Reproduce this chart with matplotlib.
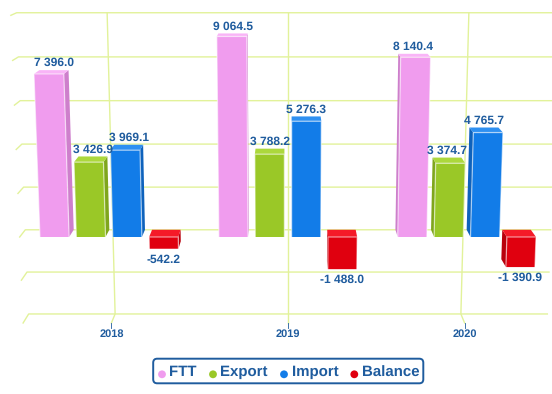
import matplotlib
matplotlib.use('Agg')
import matplotlib.pyplot as plt
from matplotlib.patches import Polygon, FancyBboxPatch, Circle

years = ['2018', '2019', '2020']
series_names = ['FTT', 'Export', 'Import', 'Balance']
ftt = [7396.0, 9064.5, 8140.4]
export = [3426.9, 3788.2, 3374.7]
imports = [3969.1, 5276.3, 4765.7]
balance = [-542.2, -1488.0, -1390.9]
grid_values = [-4000, -2000, 0, 2000, 4000, 6000, 8000, 10000]

# front, top, side colours
colors = {
    'FTT': ('#F09CEE', '#F9B4F7', '#CE7FCC'),
    'Export': ('#9AC827', '#ACD83C', '#7FA61C'),
    'Import': ('#127CE8', '#2E90F2', '#0E62BC'),
    'Balance': ('#E0000F', '#F51A28', '#B8000C'),
}
GRID = '#E2F29A'
TEXT = '#1F5C9E'
FONT = 'Liberation Sans'

plt.rcParams['text.hinting'] = 'no_hinting'
plt.rcParams['text.hinting_factor'] = 1

# fake 3d, pixel space of the figure
XC = 288.0
CAT_W = 176.6
Y0 = 237.0
SY = 0.02169
SY2 = 4.79e-8
YV = -107.0
DEPTH = 0.021
TAPER = 0.00015
SPACING = 0.2034
BAR_W = 0.163


def project(x, v, d=0.0):
    """x in category units around the middle year, v is the value, d 0 front to 1 back"""
    yf = Y0 - SY * v - SY2 * v * v
    s = 1 - DEPTH * d
    off = x * CAT_W * (1 + TAPER * (323 - yf))
    return XC + off * s, YV + (yf - YV) * s


def draw_bar(ax, x, v, cols):
    front, top, side = cols
    x0, x1 = x - BAR_W / 2, x + BAR_W / 2
    hi = max(v, 0)
    lo = min(v, 0)
    # side face that faces the middle of the chart
    xs = x1 if x < 0 else x0
    if abs(x) > BAR_W / 2:
        ax.add_patch(Polygon([project(xs, lo), project(xs, hi), project(xs, hi, 1), project(xs, lo, 1)],
                             closed=True, fc=side, ec='none', zorder=3))
    ax.add_patch(Polygon([project(x0, hi), project(x1, hi), project(x1, hi, 1), project(x0, hi, 1)],
                         closed=True, fc=top, ec='none', zorder=3))
    ax.add_patch(Polygon([project(x0, lo), project(x1, lo), project(x1, hi), project(x0, hi)],
                         closed=True, fc=front, ec='none', zorder=4))
    # pale edge on the front face
    pts = [project(x0, lo), project(x0, hi), project(x1, hi), project(x1, lo)]
    ax.plot([p[0] for p in pts], [p[1] for p in pts], color='white', alpha=0.55, lw=0.9, zorder=5)


def fmt(v):
    return f'{v:,.1f}'.replace(',', ' ')


fig = plt.figure(figsize=(5.52, 3.94), dpi=100)
ax = fig.add_axes([0, 0, 1, 1])
ax.set_xlim(0, 552)
ax.set_ylim(394, 0)
ax.axis('off')

# grid
for g in grid_values:
    a = project(-1.5, g, 0)
    b = project(-1.5, g, 1)
    c = project(1.5, g, 1)
    ax.plot([a[0], b[0], c[0]], [a[1], b[1], c[1]], color=GRID, lw=1.0, zorder=1)

for i, year in enumerate(years):
    x = i - 1
    a = project(x, max(grid_values), 1)
    b = project(x, min(grid_values), 1)
    c = project(x, min(grid_values), 0)
    ax.plot([a[0], b[0], c[0]], [a[1], b[1], c[1]], color=GRID, lw=1.0, zorder=1)
    ax.plot([c[0], c[0]], [c[1], c[1] + 5], color=TEXT, lw=0.6, zorder=1)
    ax.text(c[0], 334, year, color=TEXT, fontsize=7.6, fontweight='bold', family=FONT,
            ha='center', va='center')

# bars
all_series = [ftt, export, imports, balance]
for j, (name, values) in enumerate(zip(series_names, all_series)):
    for i, v in enumerate(values):
        x = i - 1 + (j - 1.5) * SPACING
        draw_bar(ax, x, v, colors[name])
        if v >= 0:
            px, py = project(x, v, 1)
            ax.text(px, py - 7, fmt(v), color=TEXT, fontsize=8.5, fontweight='bold', family=FONT,
                    ha='center', va='center', zorder=6)
        else:
            px, py = project(x, v, 0)
            ax.text(px, py + 11, fmt(v), color=TEXT, fontsize=8.5, fontweight='bold', family=FONT,
                    ha='center', va='center', zorder=6)

# legend
ax.add_patch(FancyBboxPatch((156, 361.5), 264.5, 19, boxstyle='round,pad=2.8,rounding_size=4',
                            fc='white', ec=TEXT, lw=1.4, zorder=6))
marker_x = [162, 213, 284, 354.3]
text_x = [169, 220, 291.7, 362]
for name, mx, tx in zip(series_names, marker_x, text_x):
    ax.add_patch(Circle((mx, 374.3), 3.9, fc=colors[name][0], ec='none', zorder=7))
    ax.text(tx, 372.5, name, color=TEXT, fontsize=10.6, fontweight='bold', family=FONT,
            ha='left', va='center', zorder=7)

fig.savefig('out.png', dpi=100)
